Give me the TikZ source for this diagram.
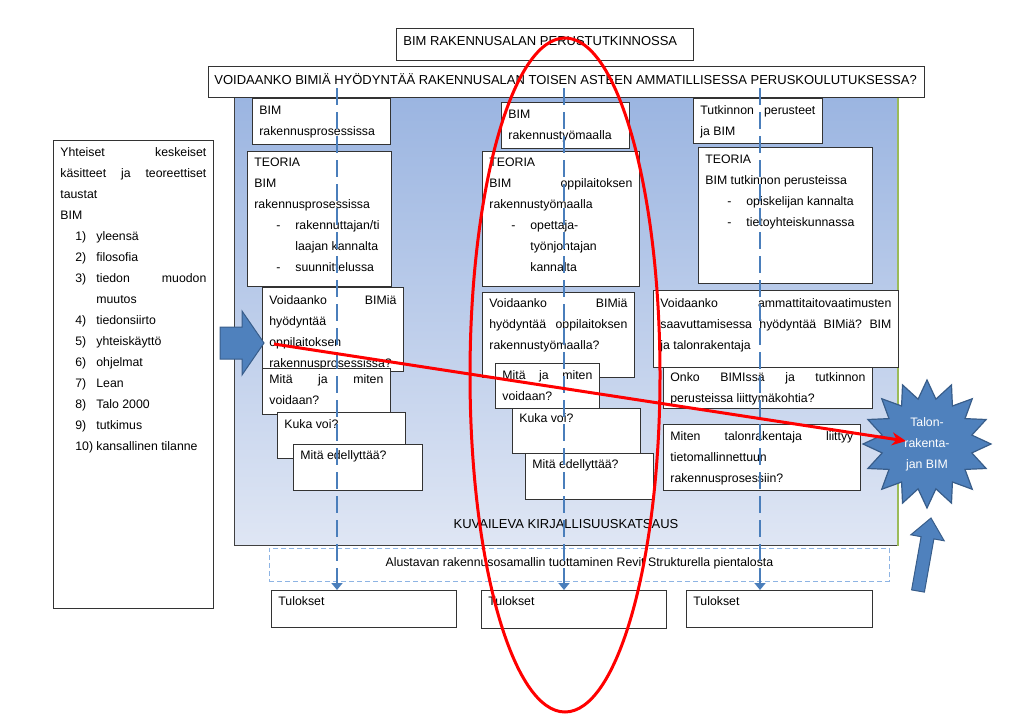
\documentclass[tikz,border=0pt]{standalone}
\usepackage{fontspec}
\setmainfont{Liberation Sans}
\usetikzlibrary{positioning,shapes.geometric,arrows.meta,calc}
\definecolor{flowblue}{RGB}{74,126,187}
\definecolor{shapeblue}{RGB}{79,129,189}
\definecolor{shapeedge}{RGB}{56,93,138}
\definecolor{paneltop}{RGB}{155,181,225}
\definecolor{panelbottom}{RGB}{223,230,244}
\definecolor{edgegreen}{RGB}{155,187,89}
\definecolor{dashblue}{RGB}{142,180,227}
\newcommand{\boxtext}[4][16]{\parbox[c][#3pt][t]{#2pt}{\raggedright\rule{0pt}{#1pt}#4}}
\newcommand{\numitem}[1]{\hspace*{15pt}\makebox[21pt][l]{#1}}
\newcommand{\dashitem}{\hspace*{22pt}\makebox[19pt][l]{-}}
\newcommand{\capsfont}{\fontsize{13}{21}\selectfont}
\hyphenpenalty=10000

\begin{document}
\begin{tikzpicture}[x=1pt,y=-1pt,
    font=\fontsize{12.3}{21}\selectfont,
    box/.style={draw=black!80,fill=white,line width=0.8pt,inner xsep=7pt,inner ysep=0pt,anchor=north west},
    panel/.style={draw=black!75,line width=0.8pt,top color=paneltop,bottom color=panelbottom,inner sep=0pt,anchor=north west},
    dash box/.style={draw=dashblue,fill=white,line width=0.8pt,dash pattern=on 5pt off 3pt,anchor=north west},
    flow/.style={draw=flowblue,line width=2.4pt,dash pattern=on 17pt off 7pt,-{Triangle[length=7pt,width=11pt]}},
    red line/.style={draw=red,line width=3pt}]
\useasboundingbox (0,0) rectangle (1033,720);

% background panel
\node[panel,minimum width=663pt,minimum height=448pt] (panel) at (234,97) {};
\draw[edgegreen,line width=1.5pt] (panel.north east) -- (panel.south east);
\node[font=\capsfont] (kuv) at (566,524) {KUVAILEVA KIRJALLISUUSKATSAUS};

% heading
\node[box,font=\capsfont] (title) at (396,28) {\boxtext[17]{283}{32}{BIM RAKENNUSALAN PERUSTUTKINNOSSA}};
\node[box,inner xsep=6pt,font=\capsfont] (quest) at (208,66) {\boxtext[18]{704}{31}{VOIDAANKO BIMIÄ HYÖDYNTÄÄ RAKENNUSALAN TOISEN ASTEEN AMMATILLISESSA PERUSKOULUTUKSESSA?}};

% common concepts
\node[box] (common) at (53,140) {\boxtext{146}{468}{Yhteiset\hfill keskeiset\\
  käsitteet\hfill ja\hfill teoreettiset\\ taustat\\ BIM\\
  \numitem{1)}yleensä\\ \numitem{2)}filosofia\\ \numitem{3)}tiedon\hfill muodon\\
  \hspace*{36pt}muutos\\ \numitem{4)}tiedonsiirto\\ \numitem{5)}yhteiskäyttö\\
  \numitem{6)}ohjelmat\\ \numitem{7)}Lean\\ \numitem{8)}Talo 2000\\
  \numitem{9)}tutkimus\\ \numitem{10)}kansallinen tilanne}};

% column 1
\node[box] (c1a) at (252,98) {\boxtext{124}{46}{BIM\\ rakennusprosessissa}};
\node[box] (c1b) at (247,151) {\boxtext[15]{130}{135}{TEORIA\\ BIM\\ rakennusprosessissa\\
  \dashitem rakennuttajan/ti\\ \hspace*{41pt}laajan kannalta\\ \dashitem suunnittelussa}};
\node[box] (c1c) at (262,287) {\boxtext[17]{127}{84}{Voidaanko\hfill BIMiä\\ hyödyntää\\ oppilaitoksen\\ rakennusprosessissa?}};
\node[box] (c1d) at (262,368) {\boxtext[15]{114}{46}{Mitä\hfill ja\hfill miten\\ voidaan?}};
\node[box] (c1e) at (277,412) {\boxtext{114}{46}{Kuka voi?}};
\node[box] (c1f) at (293,444) {\boxtext[15]{115}{46}{Mitä edellyttää?}};

% column 2
\node[box] (c2a) at (501,102) {\boxtext{114}{46}{BIM\\ rakennustyömaalla}};
\node[box] (c2b) at (482,151) {\boxtext[15]{143}{135}{TEORIA\\ BIM\hfill oppilaitoksen\\ rakennustyömaalla\\
  \dashitem opettaja-\\ \hspace*{41pt}työnjohtajan\\ \hspace*{41pt}kannalta}};
\node[box] (c2c) at (482,292) {\boxtext[15]{138}{85}{Voidaanko\hfill BIMiä\\ hyödyntää\hfill oppilaitoksen\\ rakennustyömaalla?}};
\node[box] (c2d) at (495,363) {\boxtext{90}{45}{Mitä\hfill ja\hfill miten\\ voidaan?}};
\node[box] (c2e) at (512,408) {\boxtext[14]{114}{45}{Kuka voi?}};
\node[box] (c2f) at (525,453) {\boxtext[15]{114}{46}{Mitä edellyttää?}};

% column 3
\node[box] (c3a) at (693,98) {\boxtext{115}{45}{Tutkinnon\hfill perusteet\\ ja BIM}};
\node[box] (c3b) at (698,147) {\boxtext{160}{136}{TEORIA\\ BIM tutkinnon perusteissa\\
  \dashitem opiskelijan kannalta\\ \dashitem tietoyhteiskunnassa}};
\node[box] (c3c) at (653,290) {\boxtext[17]{231}{77}{Voidaanko\hfill ammattitaitovaatimusten\\
  saavuttamisessa\hfill hyödyntää\hfill BIMiä?\hfill BIM\\ ja talonrakentaja}};
\node[box] (c3d) at (663,367) {\boxtext[14]{195}{41}{Onko\hfill BIMIssä\hfill ja\hfill tutkinnon\\ perusteissa liittymäkohtia?}};
\node[box] (c3e) at (663,424) {\boxtext{183}{66}{Miten\hfill talonrakentaja\hfill liittyy\\ tietomallinnettuun\\ rakennusprosessiin?}};

% modelling and results
\node[dash box,minimum width=620pt,minimum height=33pt,text height=9pt,text depth=6pt] (alust) at (269,548)
  {Alustavan rakennusosamallin tuottaminen Revit Strukturella pientalosta};
\node[box] (res1) at (271,590) {\boxtext[15]{171}{37}{Tulokset}};
\node[box] (res2) at (481,590) {\boxtext[15]{171}{38}{Tulokset}};
\node[box] (res3) at (686,590) {\boxtext[15]{172}{37}{Tulokset}};

% block arrow on the left
\filldraw[fill=shapeblue,draw=shapeedge,line width=1pt]
  (220,327) -- (242,327) -- (242,311) -- (264,343) -- (242,375) -- (242,359) -- (220,359) -- cycle;

% dashed flows
\coordinate (s1) at (337,88);
\coordinate (s2) at (564,88);
\coordinate (s3) at (760,88);
\draw[flow] (s1) -- (s1 |- res1.north);
\draw[flow] (s2) -- (s2 |- res2.north);
\draw[flow] (s3) -- (s3 |- res3.north);

% star and the arrow under it
\node[star,star points=16,star point ratio=1.4,minimum size=128pt,inner sep=0pt,
  fill=shapeblue,draw=shapeedge,line width=1.2pt,text=white,align=center] (talon) at (927,444)
  {Talon-\\rakenta-\\jan BIM};
\filldraw[fill=shapeblue,draw=shapeedge,line width=1pt]
  (911.6,589.9) -- (921.1,536.7) -- (910.8,534.8) -- (931,518) -- (944.2,540.8) -- (933.9,538.9) -- (924.4,592.1) -- cycle;

% red marks
\coordinate (rstart) at (274,344);
\coordinate (rend) at (906,441);
\draw[red line,-{Stealth[length=14pt,width=13pt]}] (rstart) -- (rend);
\draw[red line] (565,375) ellipse [x radius=95,y radius=337];
\end{tikzpicture}
\end{document}
